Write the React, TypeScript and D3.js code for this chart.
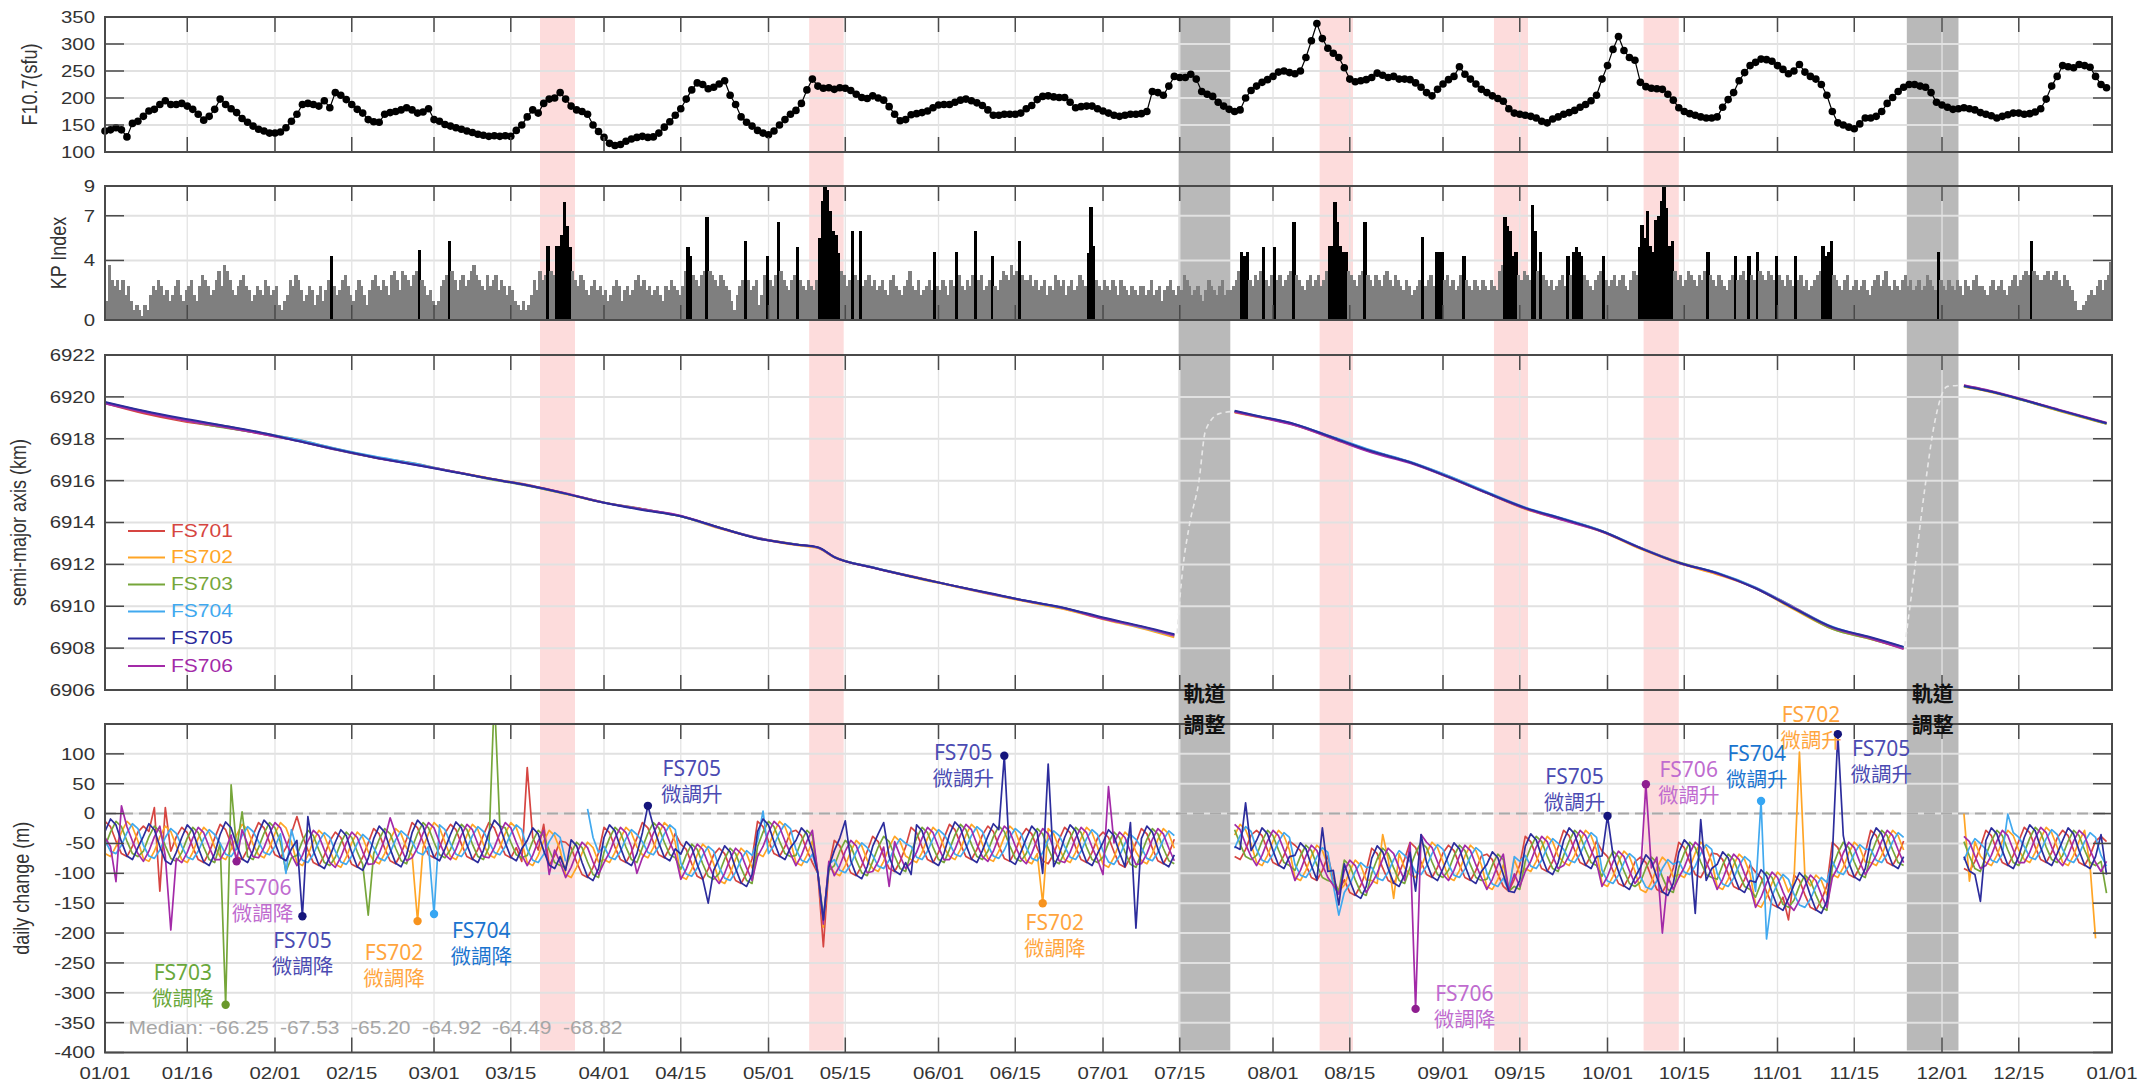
import React from 'react';
import * as d3 from 'd3';

const N = null;

// ---------------- DATA ----------------
const X_TICKS = ['2024-01-01','2024-01-16','2024-02-01','2024-02-15','2024-03-01','2024-03-15','2024-04-01','2024-04-15','2024-05-01','2024-05-15','2024-06-01','2024-06-15','2024-07-01','2024-07-15','2024-08-01','2024-08-15','2024-09-01','2024-09-15','2024-10-01','2024-10-15','2024-11-01','2024-11-15','2024-12-01','2024-12-15','2025-01-01'];

const F107_TICKS = [100, 150, 200, 250, 300, 350];
const KP_TICKS = [0, 4, 7, 9];
const SMA_TICKS = [6906, 6908, 6910, 6912, 6914, 6916, 6918, 6920, 6922];
const DC_TICKS = [-400, -350, -300, -250, -200, -150, -100, -50, 0, 50, 100];

// daily F10.7 (sfu), day 0 = 2024-01-01
const F107 = [
139,141,145,141,128,153,157,166,176,179, 188,195,188,188,190,185,179,170,159,166,
179,198,188,180,173,162,155,148,142,139, 135,135,137,145,157,170,188,190,188,185,
195,182,210,205,197,188,179,172,160,156, 155,170,173,175,178,182,178,172,174,180,
160,157,151,148,145,142,139,136,133,131, 129,130,129,130,129,140,150,165,178,172,
190,198,200,210,198,185,178,175,170,150, 138,127,116,112,114,120,124,127,129,127,
128,135,146,156,168,180,198,215,228,225, 217,220,226,232,205,188,165,155,148,140,
135,132,139,150,160,170,177,190,215,235, 222,218,219,216,219,218,214,207,201,199,
204,200,196,184,170,158,160,169,171,173, 176,182,187,188,188,192,196,198,195,191,
186,178,168,168,170,170,170,172,180,186, 197,203,204,202,201,201,192,182,184,185,
185,180,176,172,168,166,168,170,170,171, 175,212,210,205,222,240,238,238,244,235,
212,207,203,192,185,179,175,178,200,214, 222,229,234,240,248,250,247,245,250,275,
306,338,310,292,283,275,256,235,230,232, 234,238,246,242,238,240,235,235,234,228,
220,210,204,216,226,234,240,258,244,235, 226,216,210,204,199,194,180,172,170,168,
166,163,157,154,161,165,170,173,177,183, 188,195,205,235,260,290,314,288,275,270,
229,221,218,217,216,207,196,182,175,171, 168,165,163,163,165,183,197,210,232,247,
260,266,272,271,268,260,253,245,250,262, 248,240,235,225,205,175,154,150,146,143,
152,163,163,166,175,190,201,212,220,225, 225,222,220,210,192,187,183,179,180,182,
180,178,173,170,167,163,166,169,172,172, 170,171,174,180,198,222,240,260,258,256,
262,260,257,240,225,219
];

// Kp index, two values per day (00-12 UT, 12-24 UT)
const KP = [
// Jan
1.3,3.7, 2.7,2.3, 2.7,2.0, 2.7,1.7, 2.3,1.3, 0.7,1.0, 0.7,0.3, 1.0,0.7, 1.7,2.3, 2.0,2.7,
2.3,1.7, 2.0,1.3, 1.7,2.3, 2.7,1.7, 1.3,2.0, 2.3,2.7, 1.7,1.3, 2.3,3.0, 2.7,2.3, 1.7,2.0,
2.7,3.3, 2.3,3.7, 3.3,2.7, 2.0,1.7, 2.3,2.7, 3.0,2.3, 2.0,1.3, 1.7,2.3, 2.0,1.7, 2.7,2.3, 1.7,2.0,
// Feb
2.3,1.0, 0.7,1.3, 1.7,2.7, 2.3,3.0, 2.7,2.0, 1.3,1.7, 2.3,2.0, 1.0,1.7, 2.3,1.3, 2.0,2.7,
4.3,2.3, 1.7,2.0, 2.7,3.0, 2.3,1.7, 1.3,2.0, 2.7,2.3, 1.7,1.0, 2.0,2.7, 3.0,2.3, 2.0,2.7,
2.3,1.7, 3.0,3.3, 2.7,2.0, 3.3,3.0, 2.7,2.3, 3.0,3.3, 4.7,2.7, 2.3,1.7, 2.0,1.3,
// Mar
1.0,1.3, 2.3,2.7, 3.0,5.3, 3.3,2.7, 2.0,2.7, 3.0,2.3, 2.7,3.3, 3.7,3.0, 2.7,2.3, 2.0,3.0,
2.3,2.7, 3.0,2.0, 2.7,2.3, 1.7,2.3, 2.0,1.3, 1.0,0.7, 1.3,0.7, 1.0,1.7, 2.7,2.0, 3.3,2.7,
3.0,5.0, 3.3,3.0, 5.0,5.0, 5.7,7.9, 6.3,4.9, 3.3,2.7, 2.3,3.0, 2.7,2.0, 1.7,2.3, 2.7,2.0, 2.3,1.7,
// Apr
2.0,1.3, 1.7,2.3, 2.7,2.3, 1.3,2.0, 2.3,1.7, 2.0,2.7, 3.0,2.3, 2.7,2.0, 2.3,1.7, 2.0,2.3,
1.7,1.3, 2.3,2.0, 2.7,2.3, 2.0,1.7, 2.3,3.3, 4.9,4.3, 3.0,2.7, 2.3,3.0, 3.3,6.9, 3.3,3.0,
2.7,2.3, 3.0,2.7, 2.3,2.0, 1.3,0.7, 1.7,2.3, 2.7,5.3, 2.7,2.0, 2.3,2.7, 1.0,1.7, 3.0,4.3,
// May
2.7,2.3, 3.0,6.6, 3.3,2.7, 2.3,2.0, 2.7,3.0, 4.9,2.7, 2.3,2.0, 2.7,2.3, 2.0,2.7, 5.5,8.0,
9.0,8.7, 7.3,6.0, 5.7,4.5, 3.3,3.0, 2.3,2.7, 6.0,3.0, 2.7,6.0, 2.3,2.7, 3.0,2.3, 2.7,2.0,
2.3,2.7, 2.0,1.7, 2.7,3.0, 2.3,2.0, 1.7,2.3, 2.7,3.3, 2.3,2.0, 2.7,1.7, 2.0,2.3, 2.7,2.0, 4.6,2.3,
// Jun
2.0,2.7, 2.3,1.7, 2.7,2.3, 4.6,3.0, 2.3,2.0, 2.7,2.3, 3.0,6.0, 2.7,3.0, 2.0,2.3, 2.7,4.3,
2.3,2.0, 2.7,3.3, 3.0,2.7, 3.7,3.0, 3.3,5.3, 3.0,2.7, 2.7,3.0, 2.3,2.7, 2.0,2.3, 2.7,1.7,
2.3,2.0, 3.0,2.7, 2.3,2.7, 1.7,2.3, 2.7,2.0, 2.3,3.0, 2.7,2.3, 4.5,7.6, 5.0,2.7, 2.3,2.0,
// Jul
2.7,2.3, 2.0,2.7, 2.3,1.7, 2.7,2.3, 2.0,1.7, 2.3,2.0, 1.7,2.3, 2.3,1.7, 2.0,2.7, 1.7,2.0,
2.3,1.3, 2.0,2.3, 2.7,2.0, 1.7,2.3, 2.0,3.0, 2.7,2.3, 1.7,2.0, 2.3,1.7, 1.3,2.0, 2.7,2.3,
2.0,1.7, 2.3,2.7, 1.7,2.0, 2.0,2.3, 2.7,3.3, 4.6,4.3, 4.6,2.7, 2.3,3.0, 2.7,3.3, 4.9,2.7, 2.3,3.0,
// Aug
4.9,2.7, 3.0,2.3, 2.7,3.0, 3.3,6.6, 3.0,2.7, 2.3,2.0, 2.7,3.0, 2.3,2.7, 3.0,2.3, 2.7,3.3,
5.0,5.0, 7.9,6.6, 5.0,4.6, 4.6,3.3, 3.0,2.7, 2.3,3.0, 3.3,6.6, 3.0,2.7, 2.3,3.0, 2.7,2.3,
3.0,3.3, 2.7,2.3, 3.0,2.7, 2.3,2.0, 2.7,2.3, 1.7,2.0, 2.3,2.7, 5.6,2.3, 2.7,3.0, 2.3,4.6, 4.6,4.6,
// Sep
2.7,3.0, 2.3,2.7, 2.0,2.3, 3.0,4.3, 2.7,2.3, 2.0,2.7, 2.3,2.0, 2.7,2.3, 2.0,2.7, 2.3,2.0,
3.3,3.7, 6.9,6.3, 6.0,4.3, 4.6,3.0, 2.7,3.3, 3.0,2.7, 7.7,6.0, 3.3,4.6, 3.0,2.7, 2.3,2.7,
2.0,2.3, 2.7,3.0, 2.3,4.3, 3.0,4.6, 4.9,4.6, 4.3,3.0, 2.7,2.3, 2.0,2.7, 3.0,3.3, 4.3,2.7,
// Oct
2.3,2.7, 3.0,2.3, 2.7,3.0, 2.3,2.0, 2.7,3.3, 3.0,4.9, 6.4,5.5, 7.3,5.0, 4.6,6.7, 7.0,8.0,
8.9,7.5, 5.0,5.3, 3.3,2.7, 3.0,2.3, 2.7,3.3, 3.0,2.7, 2.3,3.0, 2.7,3.3, 4.6,3.0, 2.7,2.3,
3.0,2.7, 2.3,2.0, 2.7,3.0, 4.3,2.7, 3.0,3.3, 2.7,4.3, 3.0,2.7, 4.6,3.3, 3.0,2.7, 3.3,3.0, 2.7,4.3,
// Nov
3.0,2.7, 2.3,3.0, 2.7,2.3, 4.3,2.7, 3.0,2.3, 2.7,2.0, 2.3,2.7, 3.0,3.3, 5.0,4.3, 4.6,5.3,
3.0,2.7, 2.3,2.0, 2.7,3.0, 2.0,2.3, 2.7,2.0, 2.3,2.7, 2.0,1.7, 2.3,2.7, 3.0,2.3, 2.7,3.3,
2.3,2.0, 2.7,2.3, 2.0,2.7, 3.0,2.3, 2.7,2.0, 2.3,2.7, 2.0,2.3, 3.0,2.7, 2.3,2.0, 4.6,2.7,
// Dec
2.3,2.0, 2.7,2.3, 2.0,2.7, 2.3,1.7, 2.7,2.3, 2.0,2.7, 3.0,2.3, 2.3,2.0, 1.7,2.3, 2.7,2.0,
2.3,2.7, 2.0,1.7, 2.3,2.7, 3.0,2.3, 2.7,3.0, 3.3,3.0, 5.3,3.3, 3.0,2.7, 2.7,3.0, 3.3,2.7,
3.0,3.3, 2.7,2.3, 3.0,2.7, 2.3,2.0, 1.3,0.7, 0.7,1.0, 1.3,1.7, 2.0,1.7, 2.3,2.7, 2.0,2.7, 3.0,3.9
];

const SERIES = ['FS701', 'FS702', 'FS703', 'FS704', 'FS705', 'FS706'];
const SERIES_COLORS = ['#d64541', '#ffa526', '#76a63a', '#41a9ef', '#2c2c9c', '#a32aa8'];

// daily change of semi-major axis (m), day 0 = 2024-01-01, one row per week
const FS701_DC = [
-13,-22,-46,-67,-72,-55,-31, -21,-30,10,-130,10,-63,-39, -23,-32,-56,-77,-82,-65,-41, -18,-27,-51,-72,-77,-60,-36,
-15,-24,-48,-69,-74,-57,-33, -5,-37,-61,-82,-87,-70,-46, -31,-40,-64,-85,-90,-73,-49, -25,-34,-58,-79,-84,-67,-43,
-15,-24,-48,-69,-74,-57,-33, -18,-27,-51,-72,-77,-60,-36, -15,-24,-48,-69,-74,-57,-80, 77,-40,-61,-18,-87,-70,-46,
-48,-57,-81,-102,-107,-90,-66, -23,-32,-56,-77,-82,-65,-41, -15,-24,-48,-69,-74,-57,-33, -51,-60,-84,-105,-110,-93,-69,
-58,-67,-91,-112,-117,-100,-76, -13,-22,-46,-67,-72,-55,-31, -28,-37,-61,-82,-100,-223,-90, -45,-54,-78,-99,-104,-87,-63,
-38,-47,-71,-92,-97,-80,-56, -23,-32,-56,-77,-82,-65,-41, -18,-27,-51,-72,-77,-60,-36, -21,-30,-54,-75,-80,-63,-39,
-25,-34,-58,-79,-84,-67,-43, -23,-32,-56,-77,-82,-65,-41, -31,-40,-64,-85,-90,-73,-49, -25,-34,-58,-79,-84,-67,-43,
N,N,N,N,N,N,N, N,N,N,-72,-77,-60,-36, -28,-37,-61,-82,-87,-70,-46, -53,-62,-86,-107,-112,-95,-71,
-110,-130,-111,-132,-137,-120,-96, -58,-67,-91,-112,-117,-100,-76, -48,-57,-81,-102,-107,-90,-66, -53,-62,-86,-107,-112,-95,-71,
-68,-77,-101,-122,-130,-110,-86, -38,-47,-71,-92,-97,-80,-56, -28,-37,-61,-82,-87,-70,-46, -63,-72,-96,-117,-122,-105,-81,
-73,-82,-106,-127,-132,-115,-91, -48,-57,-81,-102,-107,-90,-66, -68,-77,-101,-122,-127,-110,-86, -98,-107,-131,-152,-157,-140,-178,
-103,-112,-136,-157,-162,-145,-121, -48,-57,-81,-102,-107,-90,-66, -28,-37,-61,-82,-87,-70,-46, N,N,N,N,N,N,N,
N,N,N,-92,-97,-80,-56, -28,-37,-61,-82,-87,-70,-46, -23,-32,-56,-77,-82,-65,-41, -28,-37,-61,-82,-87,-70,-46,
-38,-47
];
const FS702_DC = [
-67,-72,-55,-31,-13,-22,-46, -75,-80,-63,-39,-21,-30,-54, -77,-82,-65,-41,-23,-32,-56, -72,-77,-60,-36,-18,-27,-51,
-69,-74,-57,-33,-15,-24,-48, -82,-87,-70,-46,-28,-37,-61, -85,-90,-73,-49,-31,-40,-64, -79,-84,-67,-43,-25,-34,-58,
-69,-180,-57,-33,-15,-24,-48, -72,-77,-60,-36,-18,-27,-51, -69,-74,-57,-33,-15,-24,-48, -82,-87,-70,-46,-28,-37,-61,
-102,-107,-90,-66,-48,-57,-81, -77,-82,-65,-41,-23,-32,-56, -69,-74,-57,-33,-15,-24,-48, -105,-110,-93,-69,-51,-60,-84,
-112,-117,-100,-76,-58,-67,-91, -67,-72,-55,-31,-13,-22,-46, -82,-87,-70,-46,-100,-190,-85, -99,-104,-87,-63,-45,-54,-78,
-92,-97,-80,-56,-38,-47,-71, -77,-82,-65,-41,-23,-32,-56, -72,-77,-60,-36,-18,-27,-51, -75,-80,-63,-39,-21,-30,-54,
-79,-84,-67,-150,-25,-34,-58, -77,-82,-65,-41,-23,-32,-56, -85,-90,-73,-49,-31,-40,-64, -79,-84,-67,-43,-25,-34,-58,
N,N,N,N,N,N,N, N,N,N,-36,-18,-27,-51, -82,-87,-70,-46,-28,-37,-61, -107,-112,-95,-71,-53,-62,-86,
-115,-130,-120,-96,-78,-87,-111, -112,-117,-35,-76,-142,-67,-91, -102,-107,-90,-66,-48,-57,-81, -107,-112,-95,-71,-53,-62,-86,
-122,-127,-110,-86,-125,-77,-101, -92,-97,-80,-56,-38,-47,-71, -82,-87,-70,-46,-28,-37,-61, -117,-122,-105,-81,-63,-72,-96,
-127,-132,-115,-91,-73,-82,-106, -102,-107,-90,-66,-48,-57,-81, -122,-127,-110,-86,-68,-77,-101, -152,-157,-140,-116,-98,-107,-131,
-113,103,-105,-121,-103,-112,-136, -102,-107,-90,-66,-48,-57,-81, -82,-87,-70,-46,-28,-37,-61, N,N,N,N,N,N,N,
N,N,N,0,-113,-47,-71, -82,-87,-70,-46,-28,-37,-61, -77,-82,-65,-41,-23,-32,-56, -82,-87,-70,-46,-28,-88,-209,
N,N
];
const FS703_DC = [
-55,-31,-13,-22,-46,-67,-72, -63,-39,-21,-30,-54,-75,-80, -65,-41,-23,-32,-56,-77,-82, -50,-320,48,-60,3,-72,-77,
-57,-33,-15,-24,-48,-97,-74, -70,-46,-28,-37,-61,-82,-87, -73,-49,-31,-40,-64,-85,-170, -67,-43,-25,-34,-58,-79,-84,
-57,-33,-15,-24,-48,-69,-74, -60,-36,-18,-27,-51,-72,-77, -57,200,-21,-24,-48,-69,-74, -70,-46,-28,-37,-61,-82,-87,
-90,-66,-48,-57,-81,-102,-107, -65,-41,-23,-32,-56,-77,-82, -57,-33,-15,-24,-48,-69,-74, -93,-69,-51,-60,-84,-105,-110,
-100,-76,-58,-67,-91,-112,-117, -55,-31,-13,-22,-46,-67,-72, -70,-46,-28,-37,-100,-173,-95, -87,-63,-45,-54,-78,-99,-104,
-80,-56,-38,-47,-71,-92,-97, -65,-41,-23,-32,-56,-77,-82, -60,-36,-18,-27,-51,-72,-77, -63,-39,-21,-30,-54,-75,-80,
-67,-43,-25,-34,-58,-79,-84, -65,-41,-23,-32,-56,-77,-82, -73,-49,-31,-40,-64,-85,-90, -67,-43,-25,-34,-58,-79,-84,
N,N,N,N,N,N,N, N,N,N,-27,-51,-72,-77, -70,-46,-28,-37,-61,-82,-87, -95,-71,-53,-62,-86,-107,-112,
-115,-130,-78,-87,-111,-132,-137, -100,-76,-58,-67,-91,-112,-117, -90,-66,-48,-57,-81,-102,-107, -95,-71,-53,-62,-86,-107,-112,
-110,-86,-68,-77,-130,-122,-127, -80,-56,-38,-47,-71,-92,-97, -70,-46,-28,-37,-61,-82,-87, -105,-81,-63,-72,-96,-117,-122,
-115,-91,-73,-82,-106,-127,-132, -90,-66,-48,-57,-81,-102,-107, -110,-86,-68,-77,-101,-122,-127, -140,-116,-98,-107,-131,-152,-157,
-145,-121,-103,-112,-136,-157,-162, -90,-66,-48,-57,-81,-102,-107, -70,-46,-28,-37,-61,-82,-87, N,N,N,N,N,N,N,
N,N,N,-47,-71,-92,-97, -70,-46,-28,-37,-61,-82,-87, -65,-41,-23,-32,-56,-77,-82, -70,-46,-28,-37,-61,-82,-87,
-80,-133
];
const FS704_DC = [
-45,-63,-67,-53,-32,-17,-25, -53,-71,-75,-61,-40,-25,-33, -55,-73,-77,-63,-42,-27,-35, -50,-68,-72,-58,-37,-22,-30,
-47,-65,-69,-55,-34,-100,-27, -60,-78,-82,-68,-47,-32,-40, -63,-81,-85,-71,-50,-35,-43, -57,-75,-79,-65,-44,-29,-37,
-47,-65,-69,-55,-168,-19,-27, -50,-68,-72,-58,-37,-22,-30, -47,-65,-69,-55,-34,-19,-27, -60,-78,-82,-68,-47,-32,-40,
-80,N,N,N,8,-40,-65, -55,-73,-77,-63,-42,-27,-35, -47,-65,-69,-55,-34,-19,-27, -83,-101,-105,-91,-70,-55,-63,
-90,-108,-112,-98,-77,-62,-70, -45,4,-67,-53,-32,-17,-25, -60,-78,-82,-68,-100,-178,-85, -77,-95,-99,-85,-64,-49,-57,
-70,-88,-92,-78,-57,-42,-50, -55,-73,-77,-63,-42,-27,-35, -50,-68,-72,-58,-37,-22,-30, -53,-71,-75,-61,-40,-25,-33,
-57,-75,-79,-65,-44,-29,-37, -55,-73,-77,-63,-42,-27,-35, -63,-81,-85,-71,-50,-35,-43, -57,-75,-79,-65,-44,-29,-37,
N,N,N,N,N,N,N, N,N,N,-58,-37,-22,-30, -60,-78,-82,-68,-47,-32,-40, -85,-103,-107,-93,-72,-57,-65,
-120,-170,-132,-118,-97,-82,-90, -90,-108,-112,-98,-77,-62,-70, -80,-98,-102,-88,-67,-52,-60, -85,-103,-107,-93,-72,-57,-65,
-100,-118,-122,-108,-130,-72,-80, -70,-88,-92,-78,-57,-42,-50, -60,-78,-82,-68,-47,-32,-40, -95,-113,-117,-103,-82,-67,-75,
-105,-123,-127,-113,-92,-77,-85, -80,-98,-102,-88,-67,-52,-60, -100,-118,-122,-108,-87,-72,-80, -130,21,-210,-138,-117,-102,-110,
-135,-153,-157,-143,-122,-107,-115, -80,-98,-102,-88,-67,-52,-60, -60,-78,-82,-68,-47,-32,-40, N,N,N,N,N,N,N,
N,N,N,-78,-57,-42,-50, -60,-78,-82,-68,-1,-32,-40, -55,-73,-77,-63,-42,-27,-35, -60,-78,-82,-68,-47,-32,-40,
-70,-88
];
const FS705_DC = [
-30,-9,-19,-47,-71,-77,-57, -38,-17,-27,-55,-79,-85,-65, -40,-19,-29,-57,-81,-87,-67, -35,-14,-24,-52,-76,-82,-62,
-32,-11,-21,-49,-73,-79,-59, -45,-172,-5,-62,-86,-92,-72, -48,-27,-37,-65,-89,-95,-75, -42,-21,-31,-59,-83,-89,-69,
-32,-11,-21,-49,-73,-79,-59, -35,-14,-24,-52,-76,-82,-62, -32,-11,-21,-49,-73,-79,-59, -45,-24,-34,-62,-86,-92,-72,
-95,-44,-54,-82,-106,-112,-92, -40,-19,-29,-57,-81,-87,-67, -32,13,-21,-49,-73,-79,-59, -68,-47,-57,-85,-109,-150,-95,
-75,-54,-64,-92,-116,-122,-102, -30,-9,-19,-47,-71,-77,-57, -45,-24,-34,-62,-100,-178,-90, -62,-41,-12,-79,-103,-109,-89,
-55,-34,-15,-72,-96,-102,-82, -102,-19,-29,-57,-81,-87,-67, -35,-14,-24,-52,-76,-82,-62, -38,-17,-27,97,-79,-85,-65,
-42,-21,-31,-100,83,-89,-69, -40,-19,-29,-57,-81,-87,-67, -48,-27,-37,-65,-89,-15,-192, -42,-21,-31,-59,-83,-89,-69,
N,N,N,N,N,N,N, N,N,N,-55,-60,18,-62, -45,-24,-34,-62,-86,-92,-72, -70,-49,-59,-87,-111,-24,-97,
-95,-153,-84,-112,-136,-142,-122, -75,-54,-64,-92,-116,-122,-102, -65,-130,-35,-82,-106,-112,-92, -70,-49,-59,-87,-111,-117,-97,
-85,-64,-74,-102,-130,-132,-112, -55,-34,-44,-72,-96,-102,-82, -45,-24,-34,-62,-86,-92,-72, -71,-4,-69,-97,-121,-127,-107,
-90,-69,-79,-107,-131,-137,-117, -65,-44,-54,-167,-10,-112,-92, -85,-64,-74,-102,-126,-132,-112, -115,-94,-104,-132,-156,-162,-142,
-120,-99,-109,-137,-161,-167,-147, -71,133,-37,-82,-106,-112,-92, -45,-24,-34,-62,-86,-92,-72, N,N,N,N,N,N,N,
N,N,N,-72,-96,-102,-147, -45,-24,-34,-62,-86,-92,-72, -40,-19,-29,-57,-81,-87,-67, -45,-24,-34,-62,-86,-92,-72,
-35,-102
];
const FS706_DC = [
-40,-55,-114,13,-22,-46,-67, -80,-63,-39,-21,-71,-195,-75, -82,-65,-41,-23,-32,-56,-77, -77,-60,-36,-80,-27,-51,-72,
-74,-57,-33,-15,-24,-48,-69, -87,-70,-46,-28,-37,-61,-82, -90,-73,-49,-31,-40,-64,-85, -84,-67,-43,-7,-34,-58,-79,
-74,-57,-33,-15,-24,-48,-69, -77,-60,-36,-18,-27,-51,-72, -74,-57,-33,-15,-24,-48,-69, -87,-70,-46,-28,-102,-61,-82,
-107,-90,-66,-48,-57,-81,-102, -82,-65,-41,-23,-32,-56,-100, -74,-57,-33,-15,-24,-48,-69, -110,-93,-69,-51,-60,-84,-105,
-117,-100,-76,-58,-67,-91,-112, -72,-55,-31,-13,-22,-46,-67, -87,-70,-46,-28,-100,-185,-80, -104,-87,-63,-45,-54,-78,-99,
-97,-80,-56,-122,-47,-71,-92, -82,-65,-41,-23,-32,-56,-77, -77,-60,-36,-18,-27,-51,-72, -80,-63,-39,-21,-30,-54,-75,
-84,-67,-43,-25,-34,-58,-79, -82,-65,-41,-23,-32,-56,-77, -102,45,-49,-31,-40,-64,-85, -84,-67,-43,-25,-34,-58,-79,
N,N,N,N,N,N,N, N,N,N,-18,-27,-51,-72, -87,-70,-46,-28,-37,-61,-82, -112,-95,-71,-53,-62,-86,-107,
-120,-135,-96,-78,-87,-111,-132, -117,-100,-76,-58,-67,-91,-112, -49,-327,-35,-48,-57,-81,-102, -112,-95,-71,-53,-62,-86,-107,
-127,-110,-86,-68,-130,-101,-122, -97,-80,-56,-38,-47,-71,-92, -87,-70,-46,-28,-37,-61,-82, -122,-105,-81,-63,-72,-96,-117,
-105,49,-91,-73,-200,-106,-127, -107,-90,-66,-48,-57,-81,-102, -127,-110,-86,-68,-77,-101,-122, -157,-140,-116,-98,-107,-131,-152,
-162,-145,-121,-103,-112,-136,-157, -107,-90,-66,-48,-57,-81,-102, -87,-70,-46,-28,-37,-61,-82, N,N,N,N,N,N,N,
N,N,N,-38,-47,-71,-92, -87,-70,-46,-28,-37,-61,-82, -82,-65,-41,-23,-32,-56,-77, -87,-70,-46,-28,-37,-61,-82,
-97,-80
];

// semi-major axis (km) sampled on these days of year
const SMA_DAYS = [0,7,14,21,28,35,42,49,56,63,70,77,84,91,98,105,112,119,126,130,133,140,147,154,161,168,175,182,189,195,200,206,210,217,224,231,238,245,252,259,266,273,280,287,294,301,308,315,322,328,333,339,343,350,357,365];
const FS701_SMA = [6919.70,6919.22,6918.85,6918.58,6918.26,6917.92,6917.52,6917.12,6916.82,6916.46,6916.10,6915.80,6915.38,6914.95,6914.65,6914.30,6913.75,6913.27,6912.95,6912.80,6912.35,6911.85,6911.44,6911.02,6910.62,6910.25,6909.88,6909.42,6908.99,6908.64,N,6919.28,6919.08,6918.68,6918.05,6917.42,6916.88,6916.21,6915.42,6914.68,6914.15,6913.58,6912.78,6912.06,6911.58,6910.88,6909.95,6908.98,6908.48,6907.99,N,6920.54,6920.32,6919.84,6919.32,6918.74];
const FS702_SMA = [6919.72,6919.32,6918.90,6918.64,6918.30,6917.96,6917.52,6917.14,6916.84,6916.46,6916.12,6915.78,6915.36,6914.95,6914.62,6914.30,6913.72,6913.25,6912.92,6912.78,6912.33,6911.85,6911.40,6911.00,6910.60,6910.22,6909.86,6909.38,6908.95,6908.52,N,6919.25,6919.05,6918.66,6918.00,6917.38,6916.86,6916.16,6915.40,6914.64,6914.12,6913.56,6912.74,6912.06,6911.52,6910.86,6909.85,6908.92,6908.44,6907.98,N,6920.48,6920.28,6919.82,6919.28,6918.72];
const FS703_SMA = [6919.70,6919.30,6918.92,6918.56,6918.28,6917.92,6917.48,6917.10,6916.80,6916.46,6916.08,6915.76,6915.38,6914.96,6914.63,6914.30,6913.76,6913.25,6912.96,6912.80,6912.36,6911.85,6911.42,6911.02,6910.63,6910.25,6909.90,6909.44,6909.02,6908.62,N,6919.30,6919.08,6918.66,6918.05,6917.40,6916.88,6916.18,6915.42,6914.68,6914.15,6913.58,6912.78,6912.10,6911.58,6910.88,6909.90,6908.92,6908.44,6908.00,N,6920.50,6920.30,6919.82,6919.30,6918.72];
const FS704_SMA = [6919.74,6919.32,6918.95,6918.64,6918.30,6917.96,6917.54,6917.16,6916.84,6916.46,6916.10,6915.78,6915.38,6914.95,6914.63,6914.30,6913.75,6913.26,6912.95,6912.80,6912.35,6911.86,6911.42,6911.02,6910.62,6910.26,6909.90,6909.42,6909.00,6908.60,N,6919.32,6919.10,6918.70,6918.07,6917.44,6916.90,6916.22,6915.46,6914.72,6914.18,6913.60,6912.80,6912.08,6911.60,6910.90,6909.95,6909.02,6908.50,6908.04,N,6920.52,6920.32,6919.84,6919.32,6918.74];
const FS705_SMA = [6919.76,6919.34,6918.98,6918.66,6918.32,6917.90,6917.50,6917.12,6916.78,6916.44,6916.10,6915.78,6915.38,6914.94,6914.60,6914.30,6913.76,6913.24,6912.95,6912.82,6912.35,6911.85,6911.42,6911.02,6910.64,6910.26,6909.92,6909.46,6909.05,6908.66,N,6919.34,6919.10,6918.70,6918.05,6917.40,6916.88,6916.18,6915.42,6914.70,6914.16,6913.58,6912.78,6912.08,6911.58,6910.86,6909.90,6909.00,6908.52,6908.06,N,6920.52,6920.30,6919.84,6919.32,6918.74];
const FS706_SMA = [6919.68,6919.28,6918.90,6918.60,6918.26,6917.90,6917.48,6917.10,6916.78,6916.46,6916.10,6915.78,6915.40,6914.95,6914.63,6914.32,6913.75,6913.25,6912.95,6912.80,6912.35,6911.84,6911.42,6911.02,6910.62,6910.25,6909.90,6909.40,6909.02,6908.60,N,6919.28,6919.06,6918.64,6918.00,6917.34,6916.84,6916.16,6915.40,6914.66,6914.10,6913.56,6912.78,6912.08,6911.56,6910.86,6909.92,6908.98,6908.46,6907.96,N,6920.56,6920.34,6919.86,6919.34,6918.76];

// orbit raising transitions [day, km]
const SMA_TRANSITION_1 = [[195.5,6908.7],[196.5,6911.7],[197.7,6913.8],[199.5,6916.0],[200.7,6918.4],[203.2,6919.2],[205.5,6919.3]];
const SMA_TRANSITION_2 = [[328.2,6908.1],[330.0,6911.7],[331.8,6915.5],[333.6,6918.7],[336.0,6920.5],[338.3,6920.55]];

// highlighted periods: storms (pink) and orbit manoeuvres (gray)
const BANDS = [
  ['2024-03-20T08:00Z', '2024-03-26T17:00Z', 'storm'],
  ['2024-05-08T10:00Z', '2024-05-14T17:00Z', 'storm'],
  ['2024-07-14T19:00Z', '2024-07-24T05:00Z', 'orbit'],
  ['2024-08-09T12:00Z', '2024-08-15T14:00Z', 'storm'],
  ['2024-09-10T07:00Z', '2024-09-16T12:00Z', 'storm'],
  ['2024-10-07T14:00Z', '2024-10-14T00:00Z', 'storm'],
  ['2024-11-24T14:00Z', '2024-12-04T00:00Z', 'orbit'],
];

const MEDIANS = ['-66.25', '-67.53', '-65.20', '-64.92', '-64.49', '-68.82'];

// manoeuvre annotations: marked day, label position (day, m)
const ANNOTATIONS = [
  { s: 'FS703', day: 22, text: '微調降', lx: 14.2, ly: -265, tc: '#69a83a', dc: '#6a982c', dot: true },
  { s: 'FS706', day: 24, text: '微調降', lx: 28.7, ly: -123, tc: '#c06ccf', dc: '#8e1e90', dot: true },
  { s: 'FS705', day: 36, text: '微調降', lx: 36.0, ly: -212, tc: '#4b4bb2', dc: '#15157c', dot: true },
  { s: 'FS702', day: 57, text: '微調降', lx: 52.7, ly: -232, tc: '#ffa53e', dc: '#f7931e', dot: true },
  { s: 'FS704', day: 60, text: '微調降', lx: 68.6, ly: -195, tc: '#1a74cf', dc: '#36a6f3', dot: true },
  { s: 'FS705', day: 99, text: '微調升', lx: 107.0, ly: 76, tc: '#4b4bb2', dc: '#15157c', dot: true },
  { s: 'FS705', day: 164, text: '微調升', lx: 156.5, ly: 103, tc: '#4b4bb2', dc: '#15157c', dot: true },
  { s: 'FS702', day: 171, text: '微調降', lx: 173.2, ly: -181, tc: '#ffa53e', dc: '#f7931e', dot: true },
  { s: 'FS706', day: 239, text: '微調降', lx: 247.9, ly: -300, tc: '#c06ccf', dc: '#8e1e90', dot: true },
  { s: 'FS705', day: 274, text: '微調升', lx: 268.0, ly: 63, tc: '#4b4bb2', dc: '#15157c', dot: true },
  { s: 'FS706', day: 281, text: '微調升', lx: 288.8, ly: 75, tc: '#c06ccf', dc: '#8e1e90', dot: true },
  { s: 'FS704', day: 302, text: '微調升', lx: 301.2, ly: 102, tc: '#1a74cf', dc: '#36a6f3', dot: true },
  { s: 'FS702', day: 309, text: '微調升', lx: 311.1, ly: 167, tc: '#ffa53e', dc: '#f7931e', dot: false },
  { s: 'FS705', day: 316, text: '微調升', lx: 323.9, ly: 110, tc: '#4b4bb2', dc: '#15157c', dot: true },
];

// ---------------- LAYOUT ----------------
const W = 2139, H = 1084;
const X0 = 105, X1 = 2112;
const P1 = { top: 17, bottom: 152 };
const P2 = { top: 186, bottom: 320 };
const P3 = { top: 355, bottom: 690 };
const P4 = { top: 724, bottom: 1052.5 };
const SANS = '"Liberation Sans", Arial, Helvetica, sans-serif';
const CJK = '"Noto Sans CJK TC", "Noto Sans CJK SC", sans-serif';
const SX = 1.2;
const DAY0 = Date.UTC(2024, 0, 1);

function Txt({ x, y, children, size = 17, anchor = 'middle', fill = '#333', sx = SX, rotate = 0, weight = 400, family = SANS }: any) {
  return (
    <text
      transform={`translate(${x},${y}) scale(${sx},1)` + (rotate ? ` rotate(${rotate})` : '')}
      fontSize={size} textAnchor={anchor} dominantBaseline="central"
      fill={fill} fontFamily={family} fontWeight={weight}
    >{children}</text>
  );
}

// two stacked lines in one text element
function Txt2({ x, y, l1, l2, f1, f2, s1, s2, fill, weight = 400, gap = 25 }: any) {
  return (
    <text transform={`translate(${x},${y})`} textAnchor="middle" dominantBaseline="central" fill={fill} fontWeight={weight}>
      <tspan x={0} y={0} fontFamily={f1} fontSize={s1}>{l1}</tspan>
      <tspan x={0} y={gap} fontFamily={f2} fontSize={s2}>{l2}</tspan>
    </text>
  );
}

export default function App() {
  const x = d3.scaleUtc().domain([new Date(DAY0), new Date(Date.UTC(2025, 0, 1))]).range([X0, X1]);
  const xd = (d: number) => x(new Date(DAY0 + d * 86400000));
  const y1 = d3.scaleLinear().domain([100, 350]).range([P1.bottom, P1.top]);
  const y2 = d3.scaleLinear().domain([0, 9]).range([P2.bottom, P2.top]);
  const y3 = d3.scaleLinear().domain([6906, 6922]).range([P3.bottom, P3.top]);
  const y4 = d3.scaleLinear().domain([-400, 150]).range([P4.bottom, P4.top]);
  const tickDates = X_TICKS.map((s) => new Date(s + 'T00:00:00Z'));
  const fmt = d3.utcFormat('%m/%d');

  const DC: any = { FS701: FS701_DC, FS702: FS702_DC, FS703: FS703_DC, FS704: FS704_DC, FS705: FS705_DC, FS706: FS706_DC };
  const SMA: any = { FS701: FS701_SMA, FS702: FS702_SMA, FS703: FS703_SMA, FS704: FS704_SMA, FS705: FS705_SMA, FS706: FS706_SMA };
  const colorOf = (s: string) => SERIES_COLORS[SERIES.indexOf(s)];

  const grid = (p: any, ys: any, ticks: number[]) => (
    <g>
      {ticks.filter((t) => ys(t) > p.top + 1 && ys(t) < p.bottom - 1).map((t) => (
        <line key={'h' + t} x1={X0} x2={X1} y1={ys(t)} y2={ys(t)} stroke="#e1e1e1" strokeWidth={2} />
      ))}
      {tickDates.slice(1, -1).map((d, i) => (
        <line key={'v' + i} x1={x(d)} x2={x(d)} y1={p.top} y2={p.bottom} stroke="#e4e4e4" strokeWidth={1.3} />
      ))}
    </g>
  );

  const frame = (p: any, ys: any, ticks: number[], fmtY: any) => (
    <g>
      {tickDates.map((d, i) => (
        <g key={'t' + i}>
          <line x1={x(d)} x2={x(d)} y1={p.top} y2={p.top + 15} stroke="#4a4a4a" strokeWidth={1.5} />
          <line x1={x(d)} x2={x(d)} y1={p.bottom} y2={p.bottom - 15} stroke="#4a4a4a" strokeWidth={1.5} />
        </g>
      ))}
      {ticks.map((t) => (
        <g key={'y' + t}>
          <line x1={X0} x2={X0 + 19} y1={ys(t)} y2={ys(t)} stroke="#4a4a4a" strokeWidth={1.5} />
          <line x1={X1} x2={X1 - 19} y1={ys(t)} y2={ys(t)} stroke="#4a4a4a" strokeWidth={1.5} />
          <Txt x={95} y={ys(t)} anchor="end">{fmtY(t)}</Txt>
        </g>
      ))}
      <rect x={X0} y={p.top} width={X1 - X0} height={p.bottom - p.top} fill="none" stroke="#4a4a4a" strokeWidth={2} />
    </g>
  );

  // F10.7
  const f107Pts = F107.map((v, i) => [xd(i), y1(v)]);
  const f107Line = d3.line()(f107Pts as any);

  // KP bars
  const kpBars = KP.map((v, i) => {
    const a = xd(i / 2), b = xd(i / 2 + 0.5);
    return <rect key={i} x={a} width={b - a + 0.6} y={y2(v)} height={y2(0) - y2(v)} fill={v >= 4 ? '#000' : '#7f7f7f'} />;
  });

  // SMA lines
  const smaLine = d3.line<any>().defined((d) => d[1] != null).x((d) => xd(d[0])).y((d) => y3(d[1])).curve(d3.curveMonotoneX);
  const transLine = d3.line<any>().x((d) => xd(d[0])).y((d) => y3(d[1])).curve(d3.curveMonotoneX);

  // daily change
  const dcLine = d3.line<any>().defined((d) => d != null).x((d, i) => xd(i)).y((d) => y4(d));
  const drawOrder = ['FS701', 'FS702', 'FS703', 'FS704', 'FS706', 'FS705'];

  const legendY = [531, 557.5, 584.5, 611.5, 638.5, 666];
  const medianX = [128.6, 280, 351, 422, 492, 563];

  return (
    <svg width={W} height={H} style={{ position: 'absolute', left: 0, top: 0, background: '#fff' }}>
      <defs>
        <clipPath id="dcclip"><rect x={X0} y={P4.top} width={X1 - X0} height={P4.bottom - P4.top} /></clipPath>
        <clipPath id="smaclip"><rect x={X0} y={P3.top} width={X1 - X0} height={P3.bottom - P3.top} /></clipPath>
      </defs>
      <rect x={0} y={0} width={W} height={H} fill="#fff" />

      {/* highlight bands */}
      {BANDS.map((b, i) => {
        const a = x(new Date(b[0])), c = x(new Date(b[1]));
        return <rect key={i} x={a} width={c - a} y={18} height={1050.5 - 18} fill={b[2] === 'storm' ? '#fddcdc' : '#b9b9b9'} />;
      })}

      {grid(P1, y1, F107_TICKS)}
      {grid(P2, y2, KP_TICKS)}
      {grid(P3, y3, SMA_TICKS)}
      {grid(P4, y4, DC_TICKS)}

      {/* zero line */}
      <line x1={X0} x2={X1} y1={y4(0)} y2={y4(0)} stroke="#a9a9a9" strokeWidth={2} strokeDasharray="11 6" />

      {/* F10.7 */}
      <path d={f107Line || ''} fill="none" stroke="#000" strokeWidth={1.2} />
      {f107Pts.map((p, i) => <circle key={i} cx={p[0]} cy={p[1]} r={3.8} fill="#000" />)}

      {/* KP */}
      <g shapeRendering="crispEdges">{kpBars}</g>

      {/* SMA */}
      <g clipPath="url(#smaclip)">
        {[SMA_TRANSITION_1, SMA_TRANSITION_2].map((t, i) => (
          <path key={i} d={transLine(t as any) || ''} fill="none" stroke="#e8e8e8" strokeWidth={1.6} strokeDasharray="5 4" />
        ))}
        {drawOrder.map((s) => (
          <path key={s} d={smaLine(SMA_DAYS.map((dd, i) => [dd, SMA[s][i] ?? null])) || ''} fill="none" stroke={colorOf(s)} strokeWidth={2} />
        ))}
      </g>

      {/* legend */}
      {SERIES.map((s, i) => (
        <g key={s}>
          <line x1={128} x2={165} y1={legendY[i]} y2={legendY[i]} stroke={SERIES_COLORS[i]} strokeWidth={2} />
          <Txt x={171} y={legendY[i]} anchor="start" size={17.5} fill={SERIES_COLORS[i]}>{s}</Txt>
        </g>
      ))}

      {/* daily change */}
      <g clipPath="url(#dcclip)">
        {drawOrder.map((s) => (
          <path key={s} d={dcLine(DC[s]) || ''} fill="none" stroke={colorOf(s)} strokeWidth={1.7} strokeLinejoin="round" />
        ))}
      </g>

      {frame(P1, y1, F107_TICKS, (t: number) => String(t))}
      {frame(P2, y2, KP_TICKS, (t: number) => String(t))}
      {frame(P3, y3, SMA_TICKS, (t: number) => String(t))}
      {frame(P4, y4, DC_TICKS, (t: number) => String(t))}

      {/* x labels */}
      {tickDates.map((d, i) => (
        <Txt key={i} x={x(d)} y={1073}>{fmt(d)}</Txt>
      ))}

      {/* axis titles */}
      <Txt x={29} y={(P1.top + P1.bottom) / 2} rotate={-90} size={18}>F10.7(sfu)</Txt>
      <Txt x={58} y={(P2.top + P2.bottom) / 2} rotate={-90} size={18}>KP Index</Txt>
      <Txt x={18} y={(P3.top + P3.bottom) / 2} rotate={-90} size={18}>semi-major axis (km)</Txt>
      <Txt x={21} y={(P4.top + P4.bottom) / 2} rotate={-90} size={18}>daily change (m)</Txt>

      {/* medians */}
      {MEDIANS.map((m, i) => (
        <Txt key={i} x={medianX[i]} y={1028} anchor="start" size={17.5} fill="#a6a6a6">{i === 0 ? 'Median: ' + m : m}</Txt>
      ))}

      {/* orbit manoeuvre labels */}
      {BANDS.filter((b) => b[2] === 'orbit').map((b, i) => {
        const cx = (x(new Date(b[0])) + x(new Date(b[1]))) / 2;
        return (
          <Txt2 key={i} x={cx} y={692} l1="軌道" l2="調整" f1={CJK} f2={CJK} s1={21} s2={21} fill="#111" weight={700} gap={31} />
        );
      })}

      {/* annotations */}
      {ANNOTATIONS.map((a, i) => {
        const v = DC[a.s][a.day];
        return (
          <g key={i}>
            {a.dot && <circle cx={xd(a.day)} cy={y4(v)} r={4.2} fill={a.dc} />}
            <Txt2 x={xd(a.lx)} y={y4(a.ly)} l1={a.s} l2={a.text} f1='"Noto Sans", "Open Sans", sans-serif' f2={CJK} s1={21} s2={20.5} fill={a.tc} />
          </g>
        );
      })}
    </svg>
  );
}
